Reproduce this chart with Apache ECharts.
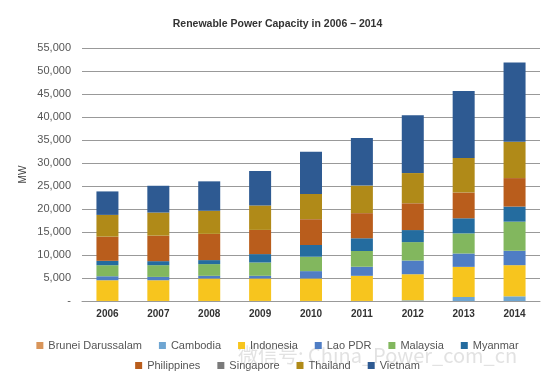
<!DOCTYPE html>
<html>
<head>
<meta charset="utf-8">
<script src="https://cdn.jsdelivr.net/npm/echarts@6/dist/echarts.min.js"></script>
<style>html,body{margin:0;padding:0;background:#fff;}#c{width:555px;height:387px;}</style>
</head>
<body>
<div id="c"></div>
<script>
var years = ['2006','2007','2008','2009','2010','2011','2012','2013','2014'];
var yTicks = [0,5000,10000,15000,20000,25000,30000,35000,40000,45000,50000,55000];
var brunei      = [1,1,1,1,1,1,1,1,1];
var cambodia    = [10,10,10,15,15,15,150,870,1020];
var indonesia   = [4500,4500,4880,4880,4880,5460,5670,6550,6770];
var laoPDR      = [870,730,580,580,1600,1970,2980,2910,3130];
var malaysia    = [2400,2550,2550,2900,3130,3420,4000,4370,6330];
var myanmar     = [950,870,870,1820,2550,2770,2620,3280,3280];
var philippines = [5240,5530,5680,5240,5600,5460,5820,5600,6190];
var singapore   = [20,20,20,20,20,20,20,20,20];
var thailand    = [4730,5020,5020,5310,5460,5970,6550,7500,7860];
var vietnam     = [5100,5820,6400,7500,9170,10340,12590,14560,17250];

var names = ['Brunei Darussalam','Cambodia','Indonesia','Lao PDR','Malaysia','Myanmar','Philippines','Singapore','Thailand','Vietnam'];
var values = [brunei,cambodia,indonesia,laoPDR,malaysia,myanmar,philippines,singapore,thailand,vietnam];
var colors = ['#D9955A','#6FA6D2','#F7C51E','#4F7DC4','#82B75E','#246C9F','#B95D1C','#7A7A7A','#B08A18','#2E5A92'];

var chart = echarts.init(document.getElementById('c'));
var font = 'Liberation Sans, Arial, sans-serif';
var series = names.map(function(n, i){
  return {name:n, type:'bar', stack:'t', data:values[i], barWidth:22,
          itemStyle:{color:colors[i]}, emphasis:{disabled:true}};
});
var legendCommon = {icon:'rect', itemWidth:7, itemHeight:7, itemGap:17, padding:0,
  textStyle:{fontSize:11, color:'#555', fontFamily:font}, selectedMode:false};
chart.setOption({
  animation:false,
  color: colors,
  title:{text:'Renewable Power Capacity in 2006 – 2014', left:'center', top:14,
    textStyle:{fontSize:10.5, fontWeight:'bold', color:'#333', fontFamily:font}},
  grid:{left:82, right:15, top:48, bottom:86},
  legend:[
    Object.assign({data:names.slice(0,6), left:'center', top:340}, legendCommon),
    Object.assign({data:names.slice(6), left:'center', top:360}, legendCommon)
  ],
  xAxis:{type:'category', data:years,
    axisLine:{lineStyle:{color:'#999'}}, axisTick:{show:false},
    axisLabel:{fontSize:10, fontWeight:'bold', color:'#333', margin:8, fontFamily:font}},
  yAxis:{type:'value', min:yTicks[0], max:yTicks[yTicks.length-1], interval:5000,
    name:'MW', nameLocation:'middle', nameGap:54, nameRotate:90, nameMoveOverlap:false,
    nameTextStyle:{fontSize:10, color:'#444', fontFamily:font},
    axisLine:{show:false}, axisTick:{show:false},
    axisLabel:{fontSize:11, color:'#555', margin:11, fontFamily:font,
      formatter:function(v){ return v===0 ? '-' : v.toLocaleString('en-US'); }},
    splitLine:{lineStyle:{color:'#999', width:1}}},
  graphic:[{type:'text', left:238, top:345, silent:true,
    style:{text:'微信号: China_Power_com_cn', fontSize:20, fill:'rgba(190,190,190,0.45)',
      fontFamily:'Noto Sans CJK SC, sans-serif'}}],
  series: series
});
</script>
</body>
</html>
